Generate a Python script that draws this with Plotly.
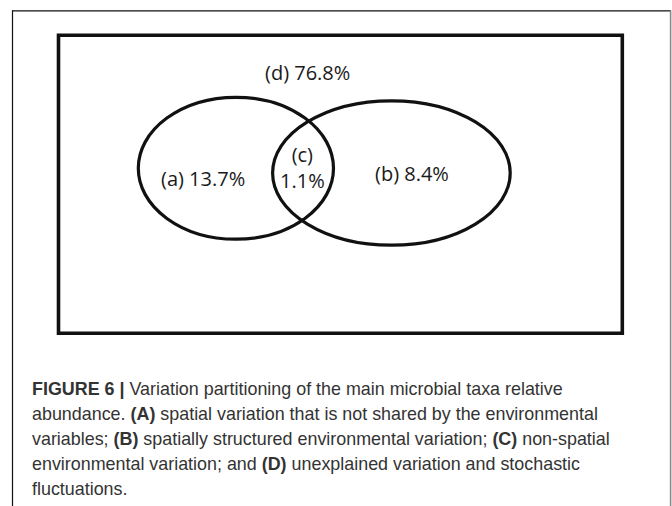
import plotly.graph_objects as go

# Variance partitioning results (percent of explained variation)
regions = ["(a)", "(b)", "(c)", "(d)"]
variance_pct = [13.7, 8.4, 1.1, 76.8]

# Label anchor points in the diagram (pixel space, y grows downward)
label_x = [203, 412, 302, 307]
label_y = [178, 173, 167, 72]

caption_lines = [
    "<b>FIGURE 6 |</b> Variation partitioning of the main microbial taxa relative",
    "abundance. <b>(A)</b> spatial variation that is not shared by the environmental",
    "variables; <b>(B)</b> spatially structured environmental variation; <b>(C)</b> non-spatial",
    "environmental variation; and <b>(D)</b> unexplained variation and stochastic",
    "fluctuations.",
]
caption_y = [389, 414, 439, 464, 489]

W, H = 672, 506

fig = go.Figure()

shapes = [
    # outer page frame
    dict(type="line", x0=12.5, x1=12.5, y0=10.5, y1=H, line=dict(color="#111", width=1.2)),
    dict(type="line", x0=12, x1=671, y0=10.8, y1=10.8, line=dict(color="#111", width=1.2)),
    dict(type="line", x0=670.6, x1=670.6, y0=10.5, y1=H, line=dict(color="#8a8a8a", width=1.6)),
    # diagram boundary (total variation)
    dict(type="rect", x0=58.5, y0=35.2, x1=622.3, y1=333.2, line=dict(color="#111", width=3.6)),
    # spatial set
    dict(type="circle", x0=138.3, y0=97.3, x1=333.5, y1=239.2, line=dict(color="#111", width=3.2)),
    # environmental set
    dict(type="circle", x0=272.6, y0=100.8, x1=510.2, y1=245.2, line=dict(color="#111", width=3.2)),
]

annotations = []
for name, pct, x, y in zip(regions, variance_pct, label_x, label_y):
    text = f"{name}<br>{pct}%" if name == "(c)" else f"{name} {pct}%"
    annotations.append(dict(
        x=x, y=y, xref="x", yref="y", text=text, showarrow=False,
        xanchor="center", yanchor="middle", align="center",
        font=dict(family="Open Sans", size=20, color="#1a1a1a"),
    ))

for line, y in zip(caption_lines, caption_y):
    annotations.append(dict(
        x=30, y=y, xref="x", yref="y", text=line, showarrow=False,
        xanchor="left", yanchor="middle", align="left",
        font=dict(family="Liberation Sans, Arial, sans-serif", size=17.9, color="#333"),
    ))

fig.update_layout(
    width=W, height=H,
    margin=dict(l=0, r=0, t=0, b=0),
    paper_bgcolor="white", plot_bgcolor="white",
    xaxis=dict(range=[0, W], visible=False, fixedrange=True),
    yaxis=dict(range=[H, 0], visible=False, fixedrange=True),
    shapes=shapes,
    annotations=annotations,
    showlegend=False,
)

fig.write_html("out.html")
